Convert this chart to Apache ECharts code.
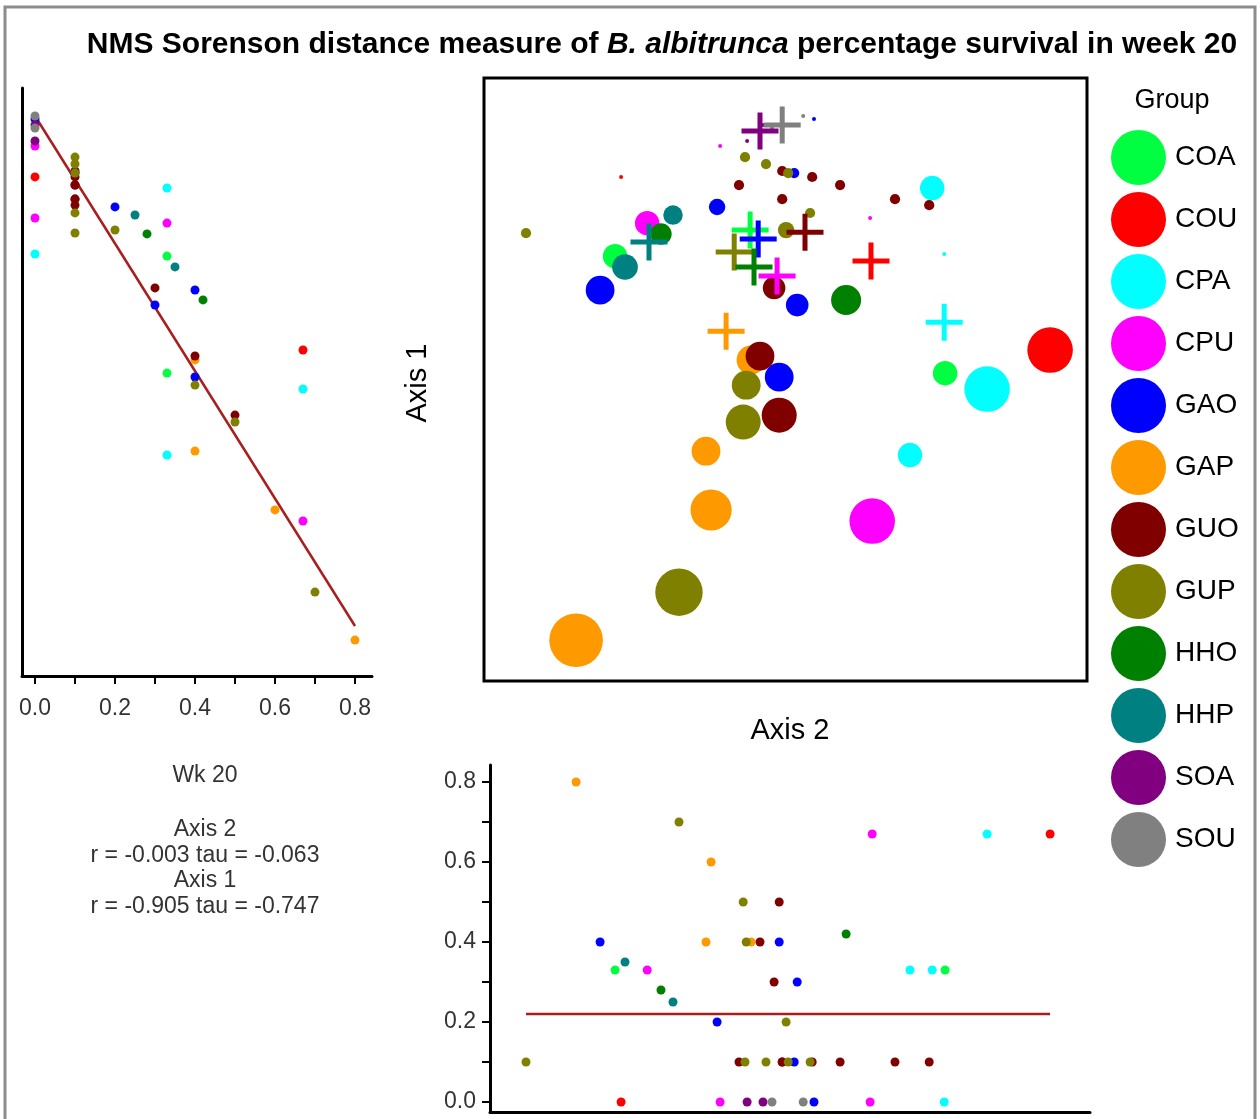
<!DOCTYPE html>
<html>
<head>
<meta charset="utf-8">
<title>NMS week 20</title>
<script src="https://cdn.jsdelivr.net/npm/echarts@6/dist/echarts.min.js"></script>
<style>
  html, body { margin: 0; padding: 0; background: #fff; }
  #chart { width: 1260px; height: 1119px; }
</style>
</head>
<body>
<div id="chart"></div>
<script>
const groups = ['COA', 'COU', 'CPA', 'CPU', 'GAO', 'GAP', 'GUO', 'GUP', 'HHO', 'HHP', 'SOA', 'SOU'];
const groupColors = ['#00FF40', '#FF0000', '#00FFFF', '#FF00FF', '#0000FF', '#FF9900',
  '#800000', '#808000', '#008000', '#008080', '#800080', '#808080'];

// one entry per sample unit
const pointGroup = [
  'COA', 'COA',
  'COU', 'COU',
  'CPA', 'CPA', 'CPA', 'CPA',
  'CPU', 'CPU', 'CPU', 'CPU',
  'GAO', 'GAO', 'GAO', 'GAO', 'GAO', 'GAO',
  'GAP', 'GAP', 'GAP', 'GAP',
  'GUO', 'GUO', 'GUO', 'GUO', 'GUO', 'GUO', 'GUO', 'GUO', 'GUO', 'GUO',
  'GUP', 'GUP', 'GUP', 'GUP', 'GUP', 'GUP', 'GUP', 'GUP', 'GUP',
  'HHO', 'HHO',
  'HHP', 'HHP',
  'SOA', 'SOA',
  'SOU', 'SOU'
];
const axis2Score = [
  -0.55, 0.55,
  -0.53, 0.90,
  0.507, 0.547, 0.69, 0.433,
  -0.2, 0.30, -0.443, 0.307,
  0.113, 0.047, -0.21, -0.60, 0.057, -0.003,
  -0.097, -0.247, -0.23, -0.68,
  -0.137, 0.007, 0.107, 0.20, 0.383, 0.497, 0.007, -0.02, -0.067, -0.003,
  -0.847, -0.117, -0.047, 0.027, 0.10, 0.02, -0.113, -0.123, -0.337,
  -0.397, 0.22,
  -0.357, -0.517,
  -0.11, -0.057,
  0.077, -0.027
];
const axis1Score = [
  0.413, 0.023,
  0.677, 0.10,
  0.64, 0.42, -0.03, -0.25,
  0.78, 0.54, 0.523, -0.47,
  0.87, 0.69, 0.577, 0.30, 0.25, 0.01,
  0.067, -0.237, -0.433, -0.867,
  0.65, 0.697, 0.677, 0.65, 0.603, 0.583, 0.603, 0.307, 0.08, -0.117,
  0.49, 0.743, 0.72, 0.69, 0.557, 0.50, -0.017, -0.14, -0.707,
  0.487, 0.267,
  0.55, 0.377,
  0.797, 0.85,
  0.88, 0.84
];
const survival = [
  0.33, 0.33,
  0.0, 0.67,
  0.33, 0.0, 0.67, 0.33,
  0.0, 0.0, 0.33, 0.67,
  0.0, 0.1, 0.2, 0.4, 0.3, 0.4,
  0.4, 0.4, 0.6, 0.8,
  0.1, 0.1, 0.1, 0.1, 0.1, 0.1, 0.1, 0.3, 0.4, 0.5,
  0.1, 0.1, 0.1, 0.1, 0.1, 0.2, 0.4, 0.5, 0.7,
  0.28, 0.42,
  0.25, 0.35,
  0.0, 0.0,
  0.0, 0.0
];

// group centroids (crosses)
const centroidAxis2 = [-0.10, 0.303, 0.547, -0.01, -0.073, -0.18, 0.083, -0.153, -0.087, -0.437, -0.067, 0.007];
const centroidAxis1 = [0.50, 0.397, 0.193, 0.347, 0.47, 0.163, 0.493, 0.427, 0.377, 0.46, 0.83, 0.85];

// fitted lines
const fit1Survival = [0, 0.8];
const fit1Axis1 = [0.88, -0.82];
const fit2Axis2 = [-0.847, 0.90];
const fit2Survival = [0.22, 0.22];

const survivalTicks = [0, 0.1, 0.2, 0.3, 0.4, 0.5, 0.6, 0.7, 0.8];
const survivalLabels = [0, 0.2, 0.4, 0.6, 0.8];

const statLines = ['Wk 20', 'Axis 2', 'r = -0.003 tau = -0.063', 'Axis 1', 'r = -0.905 tau = -0.747'];
const statY = [776, 830, 856, 881, 907];

const FONT = '"Liberation Sans", Arial, sans-serif';
const crossPath = 'path://M-2.5,-18.5h5v16h16v5h-16v16h-5v-16h-16v-5h16z';

const chart = echarts.init(document.getElementById('chart'));

function hiddenAxis(gridIndex, min, max) {
  return { type: 'value', gridIndex, min, max, show: false };
}
function lineAxis(gridIndex, min, max, extra) {
  return Object.assign({
    type: 'value', gridIndex, min, max,
    axisLine: { show: true, onZero: false, lineStyle: { color: '#000', width: 3 } },
    axisTick: { show: false },
    axisLabel: { show: false },
    splitLine: { show: false }
  }, extra || {});
}
const survivalTickOpts = {
  axisTick: { show: true, inside: false, length: 8, customValues: survivalTicks, lineStyle: { color: '#000', width: 2 } },
};

let series = [];
groups.forEach((g, gi) => {
  const idx = pointGroup.map((p, i) => p === g ? i : -1).filter(i => i >= 0);
  const color = groupColors[gi];
  series.push({
    type: 'scatter', name: g, xAxisIndex: 0, yAxisIndex: 0, z: 2,
    data: idx.map(i => [axis2Score[i], axis1Score[i], survival[i]]),
    symbolSize: v => 4 + 62 * v[2],
    itemStyle: { color, opacity: 1 },
    emphasis: { disabled: true }
  });
  series.push({
    type: 'scatter', name: g, xAxisIndex: 1, yAxisIndex: 1, z: 2,
    data: idx.map(i => [survival[i], axis1Score[i]]),
    symbolSize: 9,
    itemStyle: { color, opacity: 1 },
    emphasis: { disabled: true }
  });
  series.push({
    type: 'scatter', name: g, xAxisIndex: 2, yAxisIndex: 2, z: 2,
    data: idx.map(i => [axis2Score[i], survival[i]]),
    symbolSize: 9,
    itemStyle: { color, opacity: 1 },
    emphasis: { disabled: true }
  });
});
groups.forEach((g, gi) => {
  series.push({
    type: 'scatter', name: g, xAxisIndex: 0, yAxisIndex: 0, z: 3,
    data: [[centroidAxis2[gi], centroidAxis1[gi]]],
    symbol: crossPath, symbolSize: 37,
    itemStyle: { color: groupColors[gi], opacity: 1 },
    emphasis: { disabled: true }
  });
});
series.push({
  type: 'line', name: 'fit1', xAxisIndex: 1, yAxisIndex: 1, z: 1,
  data: fit1Survival.map((s, i) => [s, fit1Axis1[i]]),
  symbol: 'none', lineStyle: { color: '#a81e1e', width: 2.5 }
});
series.push({
  type: 'line', name: 'fit2', xAxisIndex: 2, yAxisIndex: 2, z: 1,
  data: fit2Axis2.map((a, i) => [a, fit2Survival[i]]),
  symbol: 'none', lineStyle: { color: '#a81e1e', width: 2.5 }
});

const statText = statLines.map((t, i) => ({
  type: 'text', x: 205, y: statY[i],
  style: { text: t, font: '23px ' + FONT, fill: '#333', align: 'center', verticalAlign: 'middle' }
}));

chart.setOption({
  animation: false,
  backgroundColor: '#fff',
  grid: [
    { left: 484, top: 78, width: 603, height: 603, show: true, borderColor: '#000', borderWidth: 3, backgroundColor: 'transparent' },
    { left: 22, top: 88, width: 350, height: 588 },
    { left: 490, top: 765, width: 600, height: 347 }
  ],
  xAxis: [
    hiddenAxis(0, -0.987, 1.023),
    lineAxis(1, -0.0325, 0.8425, Object.assign({}, survivalTickOpts, {
      axisLabel: {
        show: true, customValues: survivalLabels, margin: 21,
        formatter: v => v.toFixed(1), fontSize: 23, fontFamily: FONT, color: '#333'
      }
    })),
    lineAxis(2, -0.967, 1.033)
  ],
  yAxis: [
    hiddenAxis(0, -1.003, 1.007),
    lineAxis(1, -0.9867, 0.9733),
    lineAxis(2, -0.025, 0.8425, Object.assign({}, survivalTickOpts, {
      axisLabel: {
        show: true, customValues: survivalLabels, margin: 14,
        formatter: v => v.toFixed(1), fontSize: 23, fontFamily: FONT, color: '#333'
      }
    }))
  ],
  legend: {
    data: groups, orient: 'vertical', left: 1111, top: 130, padding: 0,
    itemWidth: 55, itemHeight: 55, itemGap: 7, icon: 'circle', selectedMode: false,
    textStyle: { fontSize: 28, fontFamily: FONT, color: '#000', padding: [0, 0, 0, 4] }
  },
  graphic: [
    { type: 'rect', shape: { x: 5, y: 7, width: 1250, height: 1140 }, style: { fill: 'none', stroke: '#8c8c8c', lineWidth: 3 }, z: 0 },
    {
      type: 'text', x: 662, y: 45,
      style: {
        text: '{b|NMS Sorenson distance measure of }{bi|B. albitrunca}{b| percentage survival in week 20}',
        align: 'center', verticalAlign: 'middle',
        rich: {
          b: { font: 'bold 30px ' + FONT, fill: '#000' },
          bi: { font: 'italic bold 30px ' + FONT, fill: '#000' }
        }
      }
    },
    { type: 'text', x: 1172, y: 101, style: { text: 'Group', font: '27px ' + FONT, fill: '#000', align: 'center', verticalAlign: 'middle' } },
    { type: 'text', x: 418, y: 383, rotation: Math.PI / 2, style: { text: 'Axis 1', font: '29px ' + FONT, fill: '#000', align: 'center', verticalAlign: 'middle' } },
    { type: 'text', x: 790, y: 731, style: { text: 'Axis 2', font: '29px ' + FONT, fill: '#000', align: 'center', verticalAlign: 'middle' } }
  ].concat(statText),
  series
});
</script>
</body>
</html>
